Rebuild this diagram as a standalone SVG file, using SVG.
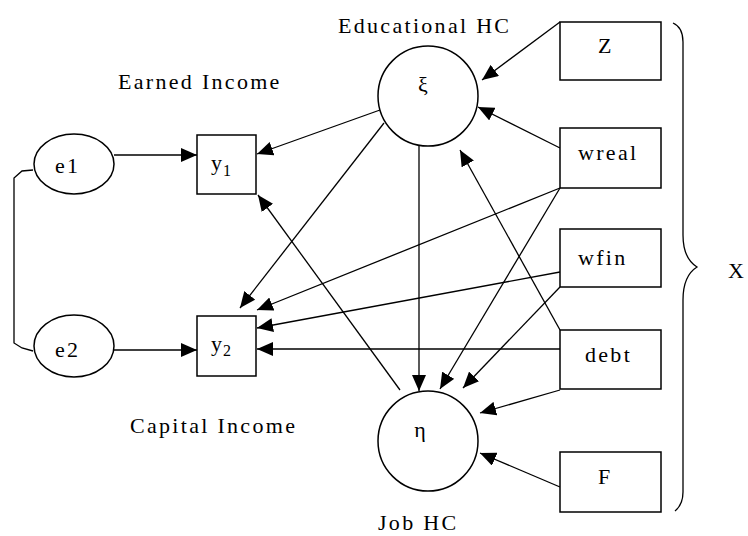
<svg xmlns="http://www.w3.org/2000/svg" width="748" height="536" viewBox="0 0 748 536">
<style>
text{font-family:"Liberation Serif","Times New Roman",serif;font-size:22px;fill:#000}
.cap{letter-spacing:2.3px}
.shape{fill:#fff;stroke:#000;stroke-width:1.5}
.edge{fill:none;stroke:#000;stroke-width:1.3}
</style>
<defs>
<marker id="ah" markerUnits="userSpaceOnUse" markerWidth="17" markerHeight="14" refX="16" refY="7" orient="auto">
<path d="M0,0 L16,7 L0,14 z" fill="#000"/>
</marker>
</defs>
<rect width="748" height="536" fill="#fff"/>
<g id="connectors">
<path class="edge" d="M33,170 L22,171 L14,178 L14,343 L22,348 L33,351"/>
<line class="edge" x1="114" y1="155" x2="197" y2="155" marker-end="url(#ah)"/>
<line class="edge" x1="114" y1="350" x2="197" y2="350" marker-end="url(#ah)"/>
<line class="edge" x1="380" y1="110" x2="257" y2="154" marker-end="url(#ah)"/>
<line class="edge" x1="384" y1="123" x2="240" y2="308" marker-end="url(#ah)"/>
<line class="edge" x1="419" y1="146" x2="419" y2="391" marker-end="url(#ah)"/>
<line class="edge" x1="400" y1="390" x2="258" y2="195" marker-end="url(#ah)"/>
<line class="edge" x1="560" y1="188" x2="257" y2="310" marker-end="url(#ah)"/>
<line class="edge" x1="560" y1="148" x2="478" y2="107" marker-end="url(#ah)"/>
<line class="edge" x1="560" y1="22" x2="482" y2="80" marker-end="url(#ah)"/>
<line class="edge" x1="560" y1="188" x2="440" y2="389" marker-end="url(#ah)"/>
<line class="edge" x1="560" y1="330" x2="460" y2="150" marker-end="url(#ah)"/>
<line class="edge" x1="560" y1="272" x2="257" y2="328" marker-end="url(#ah)"/>
<line class="edge" x1="560" y1="287" x2="463" y2="388" marker-end="url(#ah)"/>
<line class="edge" x1="560" y1="349" x2="257" y2="349" marker-end="url(#ah)"/>
<line class="edge" x1="560" y1="390" x2="480" y2="413" marker-end="url(#ah)"/>
<line class="edge" x1="560" y1="487" x2="480" y2="453" marker-end="url(#ah)"/>
</g>
<g id="e1"><ellipse class="shape" cx="74" cy="164" rx="40" ry="30"/><text x="55" y="173" class="cap">e1</text></g>
<g id="e2"><ellipse class="shape" cx="74" cy="346" rx="40" ry="31"/><text x="55" y="357" class="cap">e2</text></g>
<g id="y1"><rect class="shape" x="197" y="135" width="59" height="59"/><text x="211" y="170" font-size="24">y<tspan x="223" y="176" font-size="16">1</tspan></text></g>
<g id="y2"><rect class="shape" x="197" y="316" width="59" height="60"/><text x="211" y="351" font-size="24">y<tspan x="223" y="356" font-size="16">2</tspan></text></g>
<g id="xi"><circle class="shape" cx="428" cy="96" r="50"/><text x="423" y="92" font-size="26" text-anchor="middle">ξ</text></g>
<g id="eta"><circle class="shape" cx="428" cy="441" r="50"/><text x="420" y="437" font-size="23" text-anchor="middle">η</text></g>
<g id="Z"><rect class="shape" x="560" y="22" width="101" height="58"/><text x="598" y="53">Z</text></g>
<g id="wreal"><rect class="shape" x="560" y="128" width="101" height="60"/><text x="578" y="160" class="cap">wreal</text></g>
<g id="wfin"><rect class="shape" x="560" y="229" width="101" height="58"/><text x="578" y="265" class="cap">wfin</text></g>
<g id="debt"><rect class="shape" x="560" y="330" width="101" height="59"/><text x="585" y="362" class="cap">debt</text></g>
<g id="F"><rect class="shape" x="560" y="452" width="101" height="60"/><text x="598" y="484">F</text></g>
<g id="labels">
<text x="338" y="33" class="cap">Educational HC</text>
<text x="118" y="89" class="cap">Earned Income</text>
<text x="130" y="433" class="cap">Capital Income</text>
<text x="378" y="530" class="cap">Job HC</text>
</g>
<g id="X">
<path class="edge" d="M673,23 C680,26 683,32 683,42 L683,235 C683,252 689,262 697,267 C689,272 683,282 683,300 L683,492 C683,502 680,507 675,511"/>
<text x="728" y="278" font-size="23">X</text>
</g>
</svg>
